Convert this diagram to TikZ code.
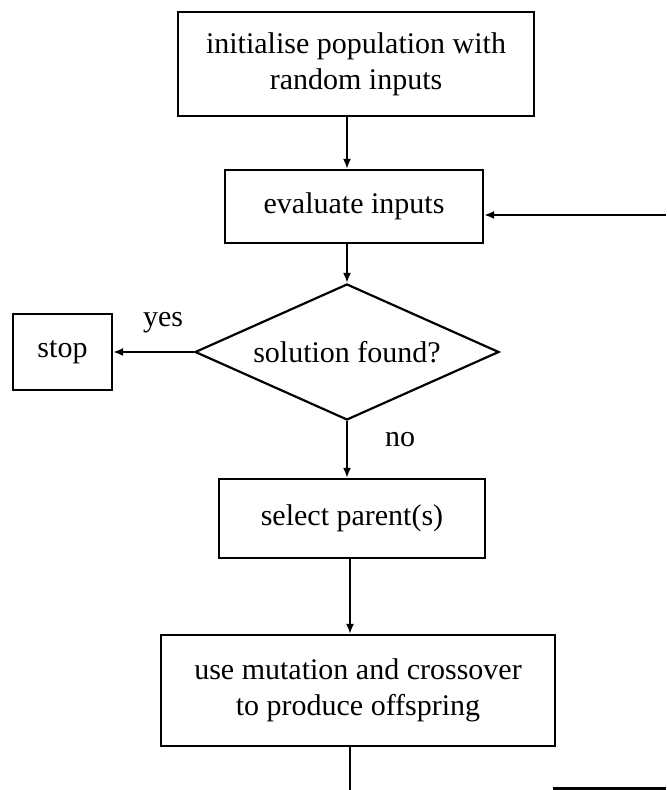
\documentclass[tikz,border=0pt]{standalone}
\usepackage{fontspec}
\setmainfont{Liberation Serif}
\usetikzlibrary{arrows.meta,shapes.geometric}

\begin{document}
\begin{tikzpicture}[x = 0.5pt, y = 0.5pt, line width = 1.1pt,
    box/.style = {draw, rectangle, align = center, inner sep = 0pt, font = \fontsize{15}{18}\selectfont},
    decision/.style = {draw, diamond, shape aspect = 2.2, inner sep = 1pt, minimum width = 152pt, minimum height = 68pt, font = \fontsize{15}{18}\selectfont},
    lbl/.style = {inner sep = 0pt, anchor = base, font = \fontsize{15}{18}\selectfont},
    arr/.style = {-{Latex[length = 5pt, width = 4pt]}}]
    \useasboundingbox (0,0) rectangle (666,790);
    \node[box, minimum width = 178pt, minimum height = 52pt] (init) at (356,726) {initialise population with\\random inputs};
    \node[box, minimum width = 129pt, minimum height = 36.5pt] (eval) at (354,583.5) {evaluate inputs};
    \node[decision] (found) at (347,438) {solution found?};
    \node[box, minimum width = 49.5pt, minimum height = 38pt] (stop) at (62.5,438) {stop};
    \node[box, minimum width = 133pt, minimum height = 39.5pt] (select) at (352,271.5) {select parent(s)};
    \node[box, minimum width = 197pt, minimum height = 55.5pt] (mutate) at (358,99.5) {use mutation and crossover\\to produce offspring};
    \node[lbl] (yes) at (163,463) {yes};
    \node[lbl] (no) at (400,343) {no};
    \coordinate (down) at (350,0);
    \coordinate (back) at (666,575);
    \coordinate (retA) at (553,1.5);
    \coordinate (retB) at (666,1.5);
    \draw[arr]
        (init.south -| found) -- (eval.north -| found);
    \draw[arr]
        (eval.south -| found) -- (found.north);
    \draw[arr]
        (found.south) -- (select.north -| found);
    \draw[arr]
        (select.south -| down) -- (mutate.north -| down);
    \draw[arr]
        (found.west) -- (stop.east);
    \draw[arr]
        (back) -- (back -| eval.east);
    \draw
        (mutate.south -| down) -- (down)
        (retA) -- (retB);
\end{tikzpicture}
\end{document}
